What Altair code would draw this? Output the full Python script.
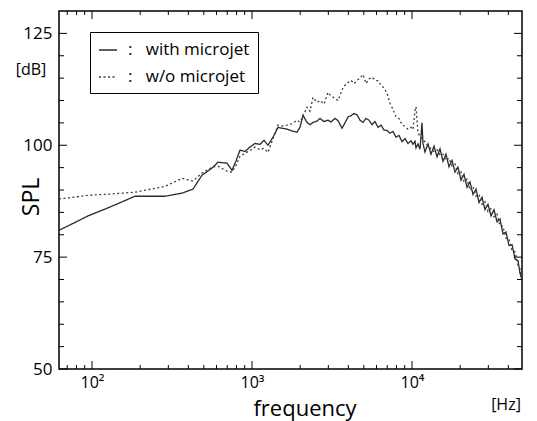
import altair as alt
import pandas as pd

# ---------------- data ----------------
freq = [62.2, 72.9, 94.4, 129.6, 185.6, 285.9, 365.2, 427.6, 487.0, 562.3,
        613.1, 698.2, 749.9, 794.3, 841.4, 904.2, 971.6, 1044, 1122, 1189,
        1259, 1353, 1454, 1540, 1655, 1778, 1910, 1995, 2084, 2207,
        2304, 2406, 2548, 2661, 2818, 2985, 3118, 3302, 3449, 3652,
        3813, 3981, 4157, 4341, 4532, 4732, 4941, 5158, 5386, 5623,
        5871, 6131, 6401, 6683, 6978, 7286, 7607, 7943, 8294, 8660,
        9042, 9441, 9857, 10145, 10440, 10593, 10902, 11220, 11548, 11711,
        12050, 12589, 13144, 13724, 14330, 14962, 15621, 16310, 17030, 17783,
        18567, 19386, 20241, 21135, 22067, 23041, 24057, 25119, 26227, 27384,
        28593, 29854, 31171, 32546, 33982, 35481, 37047, 38681, 40388, 42170,
        44030, 45973, 47315, 48697]

spl_with = [81.0, 82.2, 84.2, 86.2, 88.6, 88.6, 89.3, 90.2, 93.3, 94.9,
            96.2, 96.0, 94.4, 96.5, 98.9, 98.6, 99.6, 100.4, 100.2, 101.1,
            100.0, 101.8, 104.0, 103.8, 103.6, 103.2, 102.9, 104.0, 106.7, 105.1,
            104.6, 105.1, 105.4, 106.0, 105.3, 105.6, 105.2, 106.0, 105.5, 103.8,
            105.0, 106.3, 106.6, 107.1, 106.8, 105.6, 105.1, 106.0, 105.6, 104.6,
            105.3, 104.0, 104.5, 103.4, 103.3, 102.7, 103.1, 101.8, 102.2, 100.8,
            101.5, 100.4, 101.0, 100.2, 100.9, 99.4, 100.3, 99.1, 105.0, 100.4,
            98.5, 100.3, 98.0, 99.8, 97.4, 99.2, 96.4, 98.0, 95.2, 96.6,
            94.0, 95.1, 92.2, 93.5, 90.6, 91.8, 89.0, 90.2, 87.2, 88.4,
            85.6, 86.8, 84.2, 85.6, 82.9, 83.5, 80.2, 80.6, 77.6, 77.8,
            74.6, 74.2, 71.4, 70.0]

spl_without = [88.0, 88.3, 88.8, 89.1, 89.5, 90.8, 92.6, 92.0, 93.8, 95.1,
               95.3, 94.2, 94.0, 95.5, 97.5, 98.2, 98.8, 99.6, 99.0, 99.3,
               98.4, 101.5, 104.5, 104.3, 104.5, 104.8, 105.6, 105.2, 106.5, 108.5,
               107.6, 110.7, 109.6, 110.0, 109.2, 111.8, 111.0, 110.5, 110.0, 112.4,
               113.4, 114.0, 114.5, 113.8, 114.5, 115.0, 115.8, 113.8, 114.8, 115.2,
               114.6, 114.4, 113.4, 112.8, 111.6, 109.4, 108.0, 106.4, 106.0, 104.6,
               104.2, 103.6, 104.0, 103.5, 107.8, 108.6, 102.7, 102.0, 101.5, 101.1,
               100.8, 99.8, 99.2, 98.6, 99.0, 97.8, 98.0, 96.6, 97.1, 95.4,
               95.8, 93.6, 94.0, 91.8, 92.4, 90.0, 90.8, 88.6, 89.0, 86.8,
               87.4, 85.2, 85.8, 84.0, 84.6, 82.0, 81.9, 79.2, 79.0, 76.4,
               76.2, 73.2, 72.4, 69.6]

series_names = ["with microjet", "w/o microjet"]
y_major = [50, 75, 100, 125]
y_minor = [55, 60, 65, 70, 80, 85, 90, 95, 105, 110, 115, 120]
x_major = [100, 1000, 10000]
x_minor = [70, 80, 90, 200, 300, 400, 500, 600, 700, 800, 900,
           2000, 3000, 4000, 5000, 6000, 7000, 8000, 9000,
           20000, 30000, 40000]

# ---------------- layout ----------------
W, H = 463, 358
FONT = "Open Sans"

df = pd.DataFrame({
    "f": freq + freq,
    "spl": spl_with + spl_without,
    "series": [series_names[0]] * len(freq) + [series_names[1]] * len(freq),
})

xscale = alt.Scale(type="log", domain=[62.2, 48697], nice=False)
yscale = alt.Scale(domain=[50, 130], nice=False, zero=False)

x_axis = alt.Axis(values=x_major, ticks=False, domain=False, grid=False,
                  title="", labelFontSize=16, labelFont=FONT,
                  labelColor="black", labelPadding=5,
                  labelExpr="datum.value == 100 ? '10²' : datum.value == 1000 ? '10³' : '10⁴'")
y_axis = alt.Axis(values=y_major, ticks=False, domain=False, grid=False,
                  title="", labelFontSize=17, labelFont=FONT,
                  labelColor="black", labelPadding=7)

leg = dict(title=None, orient="none", legendX=31, legendY=21,
           symbolType="stroke", symbolSize=324,
           symbolStrokeWidth=1.6, labelFontSize=17,
           labelFont=FONT, labelColor="black",
           labelOffset=10, padding=8, rowPadding=9,
           strokeColor="black", fillColor="white",
           labelExpr="':\u00a0\u00a0\u00a0' + datum.label")

lines = alt.Chart(df).mark_line(strokeWidth=1.3).encode(
    x=alt.X("f:Q", scale=xscale, axis=x_axis),
    y=alt.Y("spl:Q", scale=yscale, axis=y_axis),
    color=alt.Color("series:N",
                    scale=alt.Scale(domain=series_names, range=["#2b2b2b", "#3c3c3c"]),
                    legend=alt.Legend(**leg)),
    strokeDash=alt.StrokeDash("series:N",
                              scale=alt.Scale(domain=series_names, range=[[1, 0], [2, 2.5]]),
                              legend=alt.Legend(**leg)),
)

def yticks(vals, x0, x1):
    return alt.Chart(pd.DataFrame({"spl": vals})).mark_rule(color="black", strokeWidth=1).encode(
        y=alt.Y("spl:Q", scale=yscale, axis=y_axis),
        x=alt.value(x0), x2=alt.value(x1))

def xticks(vals, y0, y1):
    return alt.Chart(pd.DataFrame({"f": vals})).mark_rule(color="black", strokeWidth=1).encode(
        x=alt.X("f:Q", scale=xscale, axis=x_axis),
        y=alt.value(y0), y2=alt.value(y1))

ticks = [
    yticks(y_major, 0, 8), yticks(y_minor, 0, 5),
    yticks(y_major, W - 8, W), yticks(y_minor, W - 5, W),
    xticks(x_major, H, H - 8), xticks(x_minor, H, H - 4),
    xticks(x_major, 0, 8), xticks(x_minor, 0, 4),
]

def label(txt, x, y, size, angle=0):
    kw = dict(text=txt, fontSize=size, font=FONT, color="black",
              align="center", baseline="middle")
    if angle:
        kw["angle"] = angle
    return alt.Chart(pd.DataFrame({"a": [0]})).mark_text(**kw).encode(
        x=alt.value(x), y=alt.value(y))

texts = [
    label("SPL", -27, 186, 23, 270),
    label("[dB]", -28, 59, 16),
    label("frequency", 246, 398, 22),
    label("[Hz]", 447, 394, 16),
]

chart = alt.layer(lines, *ticks, *texts).properties(
    width=W, height=H,
    autosize=alt.AutoSizeParams(type="none"),
    padding={"left": 59, "top": 11, "right": 15, "bottom": 52},
).configure_view(stroke="black", strokeWidth=1.5)

chart.save("out.html", embed_options={"renderer": "svg", "actions": False})
